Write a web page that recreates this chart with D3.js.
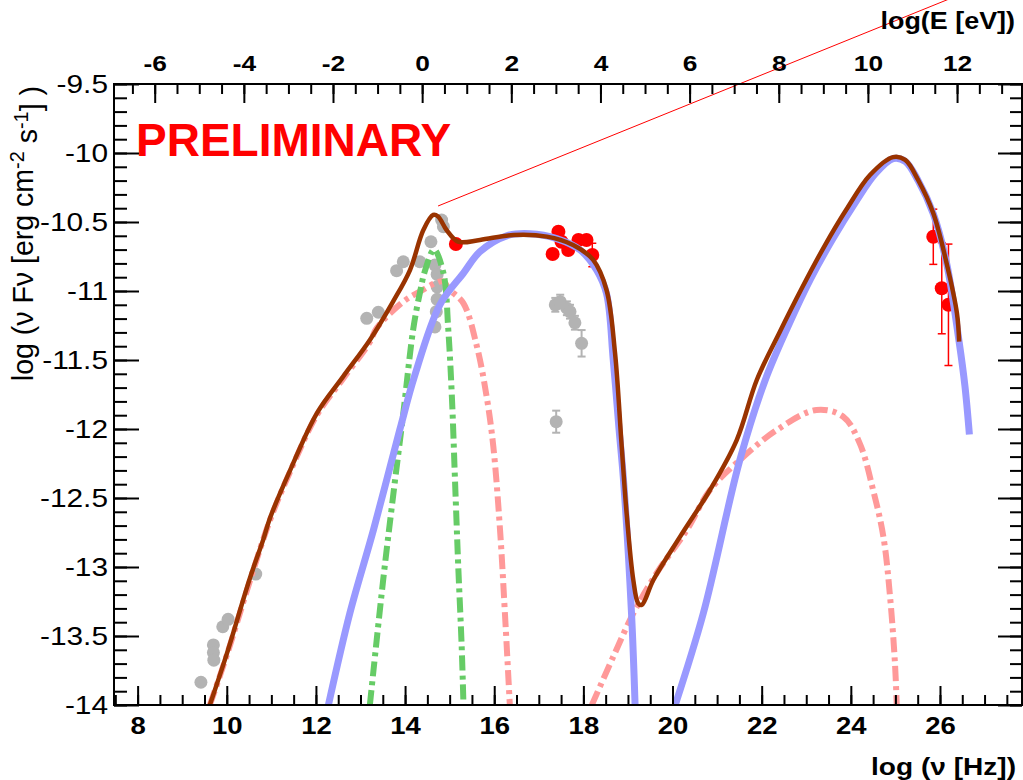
<!DOCTYPE html>
<html>
<head>
<meta charset="utf-8">
<script src="https://cdn.jsdelivr.net/npm/d3@7"></script>
<style>
  body { margin: 0; background: #fff; }
  text { font-family: "Liberation Sans", Arial, Helvetica, sans-serif; }
</style>
</head>
<body>
<script>
const WIDTH = 1023;
const HEIGHT = 780;
const M = {left: 114, right: 1022, top: 84, bottom: 705};
const X_MIN = 7.47, X_MAX = 27.84;
const Y_MIN = -14, Y_MAX = -9.5;
const E_SHIFT = 14.383;   // log(E/eV) = log(nu/Hz) - 14.383
const STRETCH = 1.17;     // labels are a bit wider than the font

// tick labels
const NU_TICKS = [8, 10, 12, 14, 16, 18, 20, 22, 24, 26];
const E_TICKS = [-6, -4, -2, 0, 2, 4, 6, 8, 10, 12];
const F_TICKS = [-9.5, -10, -10.5, -11, -11.5, -12, -12.5, -13, -13.5, -14];

// model curves [log nu, log nuFnu]
const totalModel = [[9.62,-14.0],[10.0,-13.63],[10.52,-13.08],[10.82,-12.80],[10.97,-12.645],[11.42,-12.30],
  [12.02,-11.886],[12.61,-11.62],[13.21,-11.355],[13.73,-11.077],[14.11,-10.848],[14.41,-10.558],[14.63,-10.449],
  [14.74,-10.46],[14.93,-10.558],[15.19,-10.643],[15.68,-10.63],[16.43,-10.594],[17.18,-10.606],[17.77,-10.667],
  [18.22,-10.775],[18.52,-10.993],[18.71,-11.45],[18.86,-12.128],[18.97,-12.611],[19.12,-13.094],[19.23,-13.263],
  [19.31,-13.275],[19.57,-13.094],[20.17,-12.78],[20.84,-12.442],[21.44,-12.08],[21.89,-11.645],[22.4,-11.30],
  [22.9,-10.98],[23.4,-10.68],[23.9,-10.41],[24.43,-10.16],[24.95,-10.03],[25.22,-10.05],[25.51,-10.196],
  [25.85,-10.437],[26.15,-10.80],[26.38,-11.16],[26.43,-11.367]];
const blueSync = [[12.28,-14.0],[12.76,-13.336],[13.29,-12.732],[13.88,-12.007],[14.21,-11.62],[14.78,-11.1],
  [15.31,-10.87],[15.68,-10.715],[16.28,-10.6],[16.80,-10.585],[17.40,-10.62],[17.93,-10.703],[18.30,-10.85],
  [18.52,-11.02],[18.67,-11.5],[18.80,-12.0],[18.90,-12.37],[19.08,-13.336],[19.16,-14.0]];
const blueIC = [[20.06,-14.0],[20.69,-13.336],[21.51,-12.225],[22.08,-11.645],[22.6,-11.25],[23.1,-10.91],
  [23.6,-10.62],[24.1,-10.36],[24.55,-10.15],[24.95,-10.04],[25.22,-10.06],[25.51,-10.2],[25.85,-10.44],
  [26.15,-10.80],[26.43,-11.37],[26.56,-11.69],[26.66,-12.04]];
const greenDisk = [[13.21,-14.0],[13.51,-13.09],[13.73,-12.49],[13.96,-11.886],[14.18,-11.283],[14.33,-11.017],
  [14.45,-10.85],[14.65,-10.70],[14.86,-10.87],[14.97,-11.283],[15.05,-11.766],[15.12,-12.37],[15.19,-12.973],
  [15.27,-13.577],[15.31,-14.0]];
const pinkSync = [[9.62,-14.0],[10.0,-13.64],[10.52,-13.10],[10.97,-12.66],[11.42,-12.31],[12.02,-11.9],
  [12.61,-11.635],[13.21,-11.37],[13.36,-11.27],[13.96,-11.077],[14.33,-11.005],[14.67,-10.944],[14.85,-10.93],
  [15.00,-10.99],[15.31,-11.09],[15.61,-11.40],[15.83,-11.766],[15.98,-12.128],[16.13,-12.73],[16.24,-13.336],
  [16.35,-14.0]];
const pinkIC = [[18.19,-14.0],[18.67,-13.65],[19.12,-13.336],[19.64,-13.046],[20.32,-12.732],[20.84,-12.442],
  [21.51,-12.225],[22.34,-12.007],[23.23,-11.862],[23.83,-11.911],[24.20,-12.104],[24.50,-12.442],[24.73,-12.78],
  [24.88,-13.215],[24.99,-13.698],[25.03,-14.0]];

// measurements [log nu, log nuFnu, error]
const grayPoints = [[9.42,-13.835,0],[9.70,-13.565,0],[9.70,-13.62,0],[9.71,-13.675,0],[9.91,-13.433,0],
  [10.03,-13.379,0],[10.65,-13.051,0],[13.14,-11.198,0],[13.40,-11.154,0],[13.81,-10.853,0],[13.96,-10.788,0],
  [14.33,-10.788,0],[14.58,-10.643,0],[14.67,-10.812,0],[14.82,-10.486,0],[14.86,-10.534,0],[14.72,-10.88,0],
  [14.72,-10.97,0],[14.72,-11.06,0],[14.70,-11.15,0],[14.67,-11.26,0],
  [17.37,-11.10,0.05],[17.48,-11.077,0.05],[17.63,-11.125,0.05],[17.70,-11.15,0.05],[17.81,-11.23,0.05],
  [17.96,-11.379,0.096],[17.39,-11.947,0.08]];
const redPoints = [[15.14,-10.659,0],[17.31,-10.732,0],[17.44,-10.570,0],[17.51,-10.643,0],[17.66,-10.703,0],
  [17.89,-10.63,0],[18.07,-10.63,0],[18.20,-10.739,0.085],
  [25.85,-10.607,0.2],[26.04,-10.98,0.33],[26.19,-11.10,0.44]];

// thin red line (data coords, runs out of the frame)
const guideLine = [[14.74,-10.384],[27.0,-8.78]];

const svg = d3.select("body").append("svg")
  .attr("width", WIDTH).attr("height", HEIGHT);

const x = d3.scaleLinear().domain([X_MIN, X_MAX]).range([M.left, M.right]);
const xE = d3.scaleLinear().domain([X_MIN - E_SHIFT, X_MAX - E_SHIFT]).range([M.left, M.right]);
const y = d3.scaleLinear().domain([Y_MIN, Y_MAX]).range([M.bottom, M.top]);

const stretchText = (sel) => {
  sel.each(function () {
    const t = d3.select(this);
    const x0 = +t.attr("x") || 0;
    t.attr("x", 0).attr("transform", `translate(${x0},0) scale(${STRETCH},1)`);
  });
};

const minorRange = (a, b, step) => {
  const out = [];
  for (let v = a; v <= b + 1e-9; v += step) out.push(+v.toFixed(3));
  return out;
};

svg.append("clipPath").attr("id", "plot")
  .append("rect").attr("x", M.left).attr("y", M.top)
  .attr("width", M.right - M.left).attr("height", M.bottom - M.top);

const plot = svg.append("g").attr("clip-path", "url(#plot)");

// points with error bars
const drawPoints = (data, color, r, ew) => {
  const g = plot.append("g");
  const withErr = data.filter(d => d[2] > 0);
  g.selectAll("line.bar").data(withErr).enter().append("line")
    .attr("x1", d => x(d[0])).attr("x2", d => x(d[0]))
    .attr("y1", d => y(d[1] + d[2])).attr("y2", d => y(d[1] - d[2]))
    .attr("stroke", color).attr("stroke-width", ew);
  [1, -1].forEach(s => {
    g.selectAll(null).data(withErr).enter().append("line")
      .attr("x1", d => x(d[0]) - 4).attr("x2", d => x(d[0]) + 4)
      .attr("y1", d => y(d[1] + s * d[2])).attr("y2", d => y(d[1] + s * d[2]))
      .attr("stroke", color).attr("stroke-width", ew);
  });
  g.selectAll("circle").data(data).enter().append("circle")
    .attr("cx", d => x(d[0])).attr("cy", d => y(d[1]))
    .attr("r", r).attr("fill", color);
};
drawPoints(grayPoints, "#b3b3b3", 6.5, 2);
drawPoints(redPoints, "#ff0000", 7, 1.5);

// model curves
const line = d3.line().x(d => x(d[0])).y(d => y(d[1])).curve(d3.curveCatmullRom.alpha(0.5));
const drawCurve = (data, color, w, dash) => {
  plot.append("path").datum(data).attr("d", line)
    .attr("fill", "none").attr("stroke", color).attr("stroke-width", w)
    .attr("stroke-dasharray", dash || null);
};
const DASH = "15,5,4,5";
drawCurve(pinkSync, "#ff9999", 6, DASH);
drawCurve(pinkIC, "#ff9999", 6, DASH);
drawCurve(greenDisk, "#66cc66", 6, DASH);
drawCurve(blueSync, "#9999ff", 7);
drawCurve(blueIC, "#9999ff", 7);
drawCurve(totalModel, "#993300", 4.5);

// thin line
svg.append("line")
  .attr("x1", x(guideLine[0][0])).attr("y1", y(guideLine[0][1]))
  .attr("x2", x(guideLine[1][0])).attr("y2", y(guideLine[1][1]))
  .attr("stroke", "#ff0000").attr("stroke-width", 1);

// axes
const styleAxis = (g) => {
  g.select(".domain").remove();
  g.selectAll(".tick line").attr("stroke", "#000").attr("stroke-width", 2);
};

svg.append("g").attr("transform", `translate(0,${M.bottom})`)
  .call(d3.axisBottom(x).tickValues(minorRange(7.5, 27.5, 0.5)).tickSize(-10).tickFormat("")).call(styleAxis);
const bottomMajor = svg.append("g").attr("transform", `translate(0,${M.bottom})`)
  .call(d3.axisBottom(x).tickValues(NU_TICKS).tickSize(-19).tickPadding(12).tickFormat(d => String(d)))
  .call(styleAxis);
bottomMajor.selectAll(".tick text").attr("font-size", 23.5).attr("font-weight", "bold")
  .attr("font-family", "Liberation Sans, Arial, sans-serif").attr("fill", "#000").call(stretchText);

svg.append("g").attr("transform", `translate(0,${M.top})`)
  .call(d3.axisTop(xE).tickValues(minorRange(-6.5, 13, 0.5)).tickSize(-10).tickFormat("")).call(styleAxis);
const topMajor = svg.append("g").attr("transform", `translate(0,${M.top})`)
  .call(d3.axisTop(xE).tickValues(E_TICKS).tickSize(-19).tickPadding(13).tickFormat(d => String(d)))
  .call(styleAxis);
topMajor.selectAll(".tick text").attr("font-size", 22.5).attr("font-weight", "bold")
  .attr("font-family", "Liberation Sans, Arial, sans-serif").attr("fill", "#000").call(stretchText);

svg.append("g").attr("transform", `translate(${M.left},0)`)
  .call(d3.axisLeft(y).tickValues(minorRange(-14, -9.5, 0.1)).tickSize(-13).tickFormat("")).call(styleAxis);
const leftMajor = svg.append("g").attr("transform", `translate(${M.left},0)`)
  .call(d3.axisLeft(y).tickValues(F_TICKS).tickSize(-25).tickPadding(6).tickFormat(d => String(d)))
  .call(styleAxis);
leftMajor.selectAll(".tick text").attr("font-size", 25.5)
  .attr("font-family", "Liberation Sans, Arial, sans-serif").attr("fill", "#000").call(stretchText);

svg.append("g").attr("transform", `translate(${M.right},0)`)
  .call(d3.axisRight(y).tickValues(minorRange(-14, -9.5, 0.1)).tickSize(-12).tickFormat("")).call(styleAxis);
svg.append("g").attr("transform", `translate(${M.right},0)`)
  .call(d3.axisRight(y).tickValues(F_TICKS).tickSize(-24).tickFormat("")).call(styleAxis);

// frame
svg.append("rect")
  .attr("x", M.left).attr("y", M.top)
  .attr("width", M.right - M.left).attr("height", M.bottom - M.top)
  .attr("fill", "none").attr("stroke", "#000").attr("stroke-width", 2);

// titles
svg.append("text")
  .attr("transform", `translate(1015,29) scale(${STRETCH},1)`)
  .attr("text-anchor", "end").attr("font-size", 23).attr("font-weight", "bold")
  .text("log(E [eV])");

svg.append("text")
  .attr("transform", `translate(1016,775) scale(${STRETCH},1)`)
  .attr("text-anchor", "end").attr("font-size", 24).attr("font-weight", "bold")
  .text("log (\u03bd [Hz])");

const yLabel = svg.append("text")
  .attr("transform", "translate(33,86) rotate(-90) scale(1,1.05)")
  .attr("text-anchor", "end").attr("font-size", 28.5);
yLabel.append("tspan").text("log (\u03bd F\u03bd [erg cm");
yLabel.append("tspan").attr("dy", "-0.45em").attr("font-size", "70%").text("-2");
yLabel.append("tspan").attr("dy", "0.45em").text(" s");
yLabel.append("tspan").attr("dy", "-0.45em").attr("font-size", "70%").text("-1");
yLabel.append("tspan").attr("dy", "0.45em").text("] )");

svg.append("text")
  .attr("x", 136).attr("y", 156)
  .attr("font-size", 46).attr("font-weight", "bold").attr("fill", "#ff0000")
  .text("PRELIMINARY");
</script>
</body>
</html>
